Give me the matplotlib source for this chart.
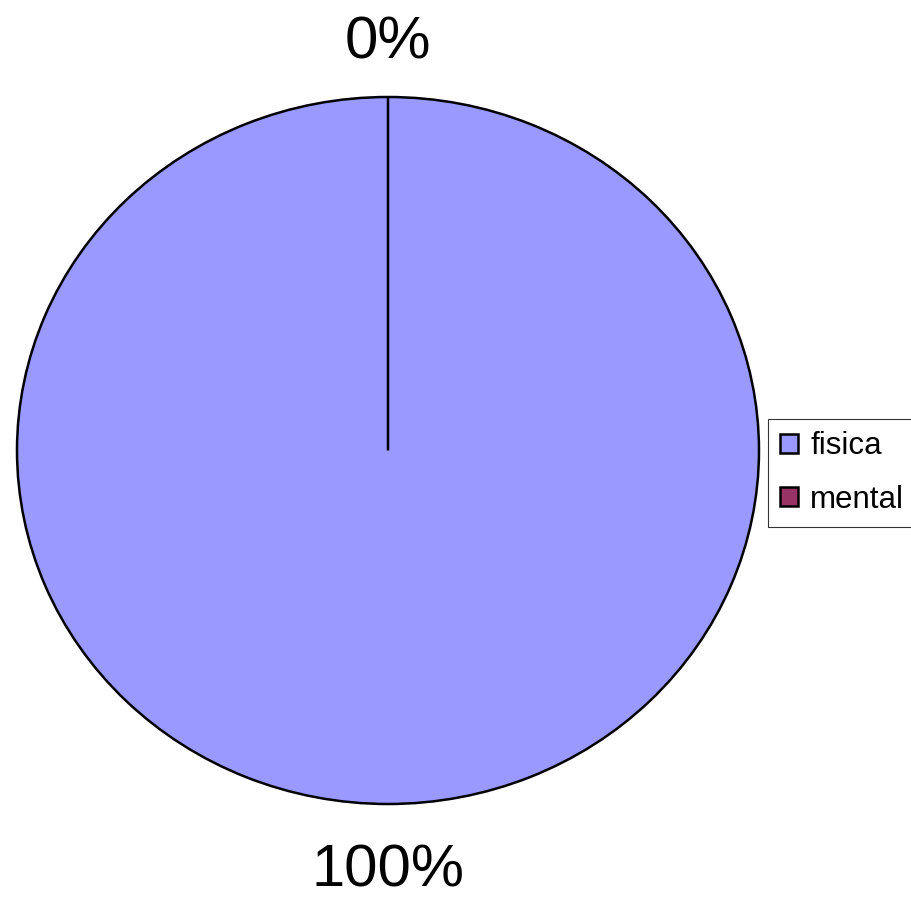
import matplotlib
matplotlib.use("Agg")
import matplotlib.pyplot as plt

categories = ["fisica", "mental"]
values = [100, 0]
colors = ["#9999ff", "#993366"]

plt.rcParams['font.family'] = ['Liberation Sans', 'DejaVu Sans']

W, H = 912, 906
fig = plt.figure(figsize=(W / 100, H / 100), dpi=100)
ax = fig.add_axes([17 / W, (H - 804) / H, (759 - 17) / W, (804 - 97) / H])

total = sum(values)
labels = [f"{v / total * 100:.0f}%" for v in values]

wedges, texts = ax.pie(values, colors=colors, startangle=90, counterclock=False,
                       labels=labels, labeldistance=1.17,
                       wedgeprops=dict(edgecolor="black", linewidth=1.8),
                       textprops=dict(fontsize=43, color="black"))
for t in texts:
    t.set_ha("center")
    t.set_va("center")
    x, y = t.get_position()
    t.set_position((0, 1.152 if y > 0 else -1.19))
ax.set_aspect("auto")
ax.set_xlim(-1, 1)
ax.set_ylim(-1, 1)
ax.axis("off")

leg = fig.legend(wedges, categories, loc="upper left",
                 bbox_to_anchor=(768 / W, 1 - 419 / H),
                 fontsize=22.5, frameon=True, fancybox=False, shadow=False,
                 handlelength=0.55, handleheight=0.55, handletextpad=0.4,
                 borderpad=0.4, labelspacing=0.75, borderaxespad=0)
leg.get_frame().set_edgecolor("black")
leg.get_frame().set_linewidth(0.8)
for h in leg.legend_handles:
    h.set_linewidth(1.8)

fig.savefig("out.png", dpi=100)
